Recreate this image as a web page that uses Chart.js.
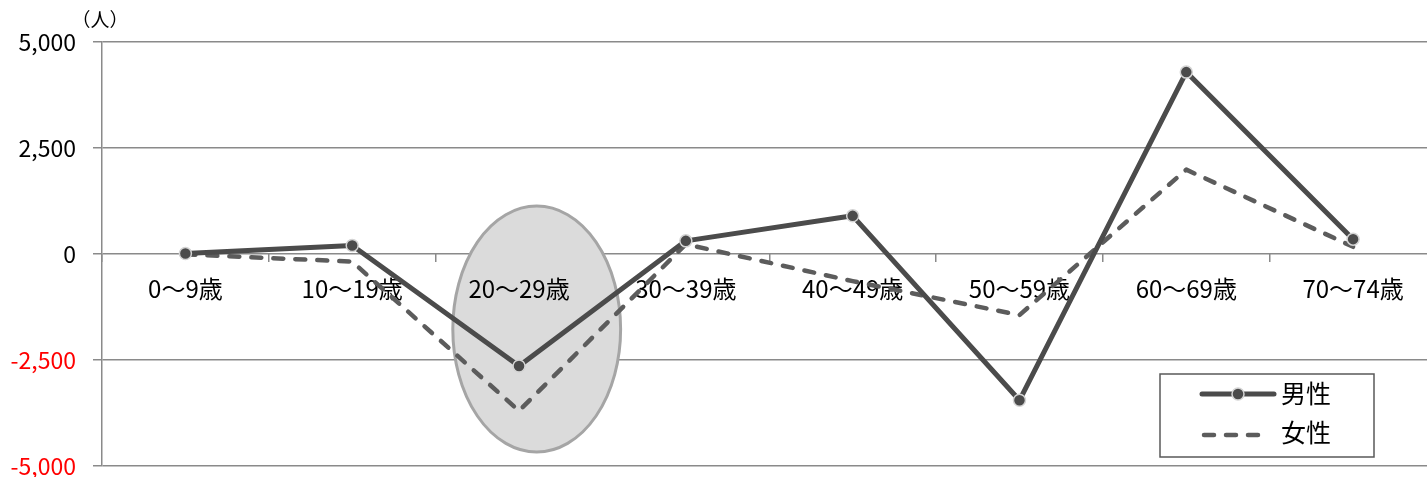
<!DOCTYPE html>
<html>
<head>
<meta charset="utf-8">
<script src="https://cdn.jsdelivr.net/npm/chart.js@4/dist/chart.umd.min.js"></script>
<style>
  html, body { margin: 0; padding: 0; background: #fff; overflow: hidden; }
  #wrap { width: 1444px; height: 477px; }
</style>
</head>
<body>
<div id="wrap"><canvas id="c" width="1444" height="477"></canvas></div>
<script>
// Age bands and net change in persons per band
const categories = ['0～9歳', '10～19歳', '20～29歳', '30～39歳', '40～49歳', '50～59歳', '60～69歳', '70～74歳'];
const maleValues = [10, 200, -2640, 310, 900, -3450, 4290, 350];
const femaleValues = [-10, -180, -3700, 230, -640, -1440, 1990, 170];
const yTickValues = [-5000, -2500, 0, 2500, 5000];
const seriesNames = ['男性', '女性'];
const unitText = '（人）';

// Highlighted band (category index, vertical centre and half-height in axis units)
const highlightBand = { index: 2, yCenter: -1770, yRadius: 2900 };

const FONT = "'Noto Sans CJK JP', 'Noto Sans', sans-serif";
const GRID = '#8a8a8a';
const MALE = '#4b4b4b';
const FEMALE = '#5c5c5c';

const fmt = v => v.toLocaleString('en-US');

const highlightPlugin = {
  id: 'highlightEllipse',
  beforeDatasetsDraw(chart) {
    const { ctx, scales: { x, y } } = chart;
    const band = x.getPixelForValue(1) - x.getPixelForValue(0);
    const cx = x.getPixelForValue(highlightBand.index) + band * 0.106;
    const rx = band * 0.503;
    const cy = y.getPixelForValue(highlightBand.yCenter);
    const ry = Math.abs(y.getPixelForValue(highlightBand.yCenter + highlightBand.yRadius) - cy);
    ctx.save();
    ctx.beginPath();
    ctx.ellipse(cx, cy, rx, ry, 0, 0, Math.PI * 2);
    ctx.fillStyle = '#dbdbdb';
    ctx.fill();
    ctx.lineWidth = 3;
    ctx.strokeStyle = '#a5a5a5';
    ctx.stroke();
    // category labels sit on top of the shaded ellipse
    ctx.beginPath();
    ctx.ellipse(cx, cy, rx - 1.5, ry - 1.5, 0, 0, Math.PI * 2);
    ctx.clip();
    x.drawLabels(chart.chartArea);
    ctx.restore();
  }
};

const overlayPlugin = {
  id: 'unitAndLegend',
  afterDraw(chart) {
    const { ctx, chartArea: a } = chart;
    ctx.save();
    // unit label above the value axis
    ctx.font = `19px ${FONT}`;
    ctx.fillStyle = '#000';
    ctx.textAlign = 'center';
    ctx.textBaseline = 'middle';
    ctx.fillText(unitText, a.left - 2, a.top - 22);

    // legend box
    const bx = 1160, by = a.bottom - 92, bw = 214, bh = 83;
    ctx.fillStyle = '#fff';
    ctx.fillRect(bx, by, bw, bh);
    ctx.lineWidth = 1.5;
    ctx.strokeStyle = '#595959';
    ctx.strokeRect(bx, by, bw, bh);

    const ds = chart.data.datasets;
    const lx0 = bx + 42, lx1 = bx + 114;
    const rowY = [by + 20, by + 61];

    // male entry: solid line with marker
    ctx.beginPath();
    ctx.moveTo(lx0, rowY[0]);
    ctx.lineTo(lx1, rowY[0]);
    ctx.lineWidth = ds[0].borderWidth;
    ctx.strokeStyle = ds[0].borderColor;
    ctx.lineCap = 'round';
    ctx.stroke();
    ctx.beginPath();
    ctx.arc((lx0 + lx1) / 2, rowY[0], ds[0].pointRadius, 0, Math.PI * 2);
    ctx.fillStyle = ds[0].pointBackgroundColor;
    ctx.fill();
    ctx.lineWidth = ds[0].pointBorderWidth;
    ctx.strokeStyle = ds[0].pointBorderColor;
    ctx.stroke();

    // female entry: dashed line
    ctx.beginPath();
    ctx.setLineDash(ds[1].borderDash);
    ctx.moveTo(lx0 + 2, rowY[1]);
    ctx.lineTo(lx1 - 6, rowY[1]);
    ctx.lineWidth = ds[1].borderWidth;
    ctx.strokeStyle = ds[1].borderColor;
    ctx.stroke();
    ctx.setLineDash([]);

    ctx.font = `25px ${FONT}`;
    ctx.fillStyle = '#000';
    ctx.textAlign = 'left';
    ctx.fillText(ds[0].label, bx + 121, rowY[0] - 1);
    ctx.fillText(ds[1].label, bx + 121, rowY[1] - 3);
    ctx.restore();
  }
};

new Chart(document.getElementById('c'), {
  type: 'line',
  data: {
    labels: categories,
    datasets: [
      {
        label: seriesNames[0],
        data: maleValues,
        borderColor: MALE,
        borderWidth: 5,
        pointRadius: 6,
        pointBackgroundColor: MALE,
        pointBorderColor: '#d4d4d4',
        pointBorderWidth: 1.5,
        tension: 0,
        borderCapStyle: 'round',
        borderJoinStyle: 'round',
        order: 1
      },
      {
        label: seriesNames[1],
        data: femaleValues,
        borderColor: FEMALE,
        borderWidth: 4.5,
        borderDash: [10, 12],
        borderCapStyle: 'round',
        borderJoinStyle: 'round',
        pointRadius: 0,
        tension: 0,
        order: 2
      }
    ]
  },
  options: {
    responsive: false,
    animation: false,
    events: [],
    layout: { padding: { left: 0, top: 42, right: 3, bottom: 11 } },
    plugins: {
      legend: { display: false },
      tooltip: { enabled: false },
      title: { display: false }
    },
    scales: {
      x: {
        type: 'category',
        position: { y: 0 },
        offset: true,
        afterFit(scale) {
          scale.paddingLeft = 0;
          scale.paddingRight = 0;
        },
        grid: {
          offset: true,
          drawOnChartArea: false,
          drawTicks: true,
          tickLength: 8,
          color: GRID,
          lineWidth: 1.5
        },
        border: { display: false },
        ticks: {
          autoSkip: false,
          maxRotation: 0,
          padding: 12,
          color: '#000',
          font: { family: FONT, size: 24 }
        }
      },
      y: {
        min: yTickValues[0],
        max: yTickValues[yTickValues.length - 1],
        afterBuildTicks(scale) {
          scale.ticks = yTickValues.map(v => ({ value: v }));
        },
        afterFit(scale) {
          scale.width = 102;
          scale.paddingTop = 0;
          scale.paddingBottom = 0;
        },
        grid: {
          color: GRID,
          lineWidth: 1.5,
          drawTicks: true,
          tickLength: 9
        },
        border: { display: true, color: GRID, width: 1.5 },
        ticks: {
          padding: 17,
          font: { family: FONT, size: 23 },
          color: ctx => (ctx.tick && ctx.tick.value < 0 ? '#ff0000' : '#000'),
          callback: v => fmt(v)
        }
      }
    }
  },
  plugins: [highlightPlugin, overlayPlugin]
});
</script>
</body>
</html>
